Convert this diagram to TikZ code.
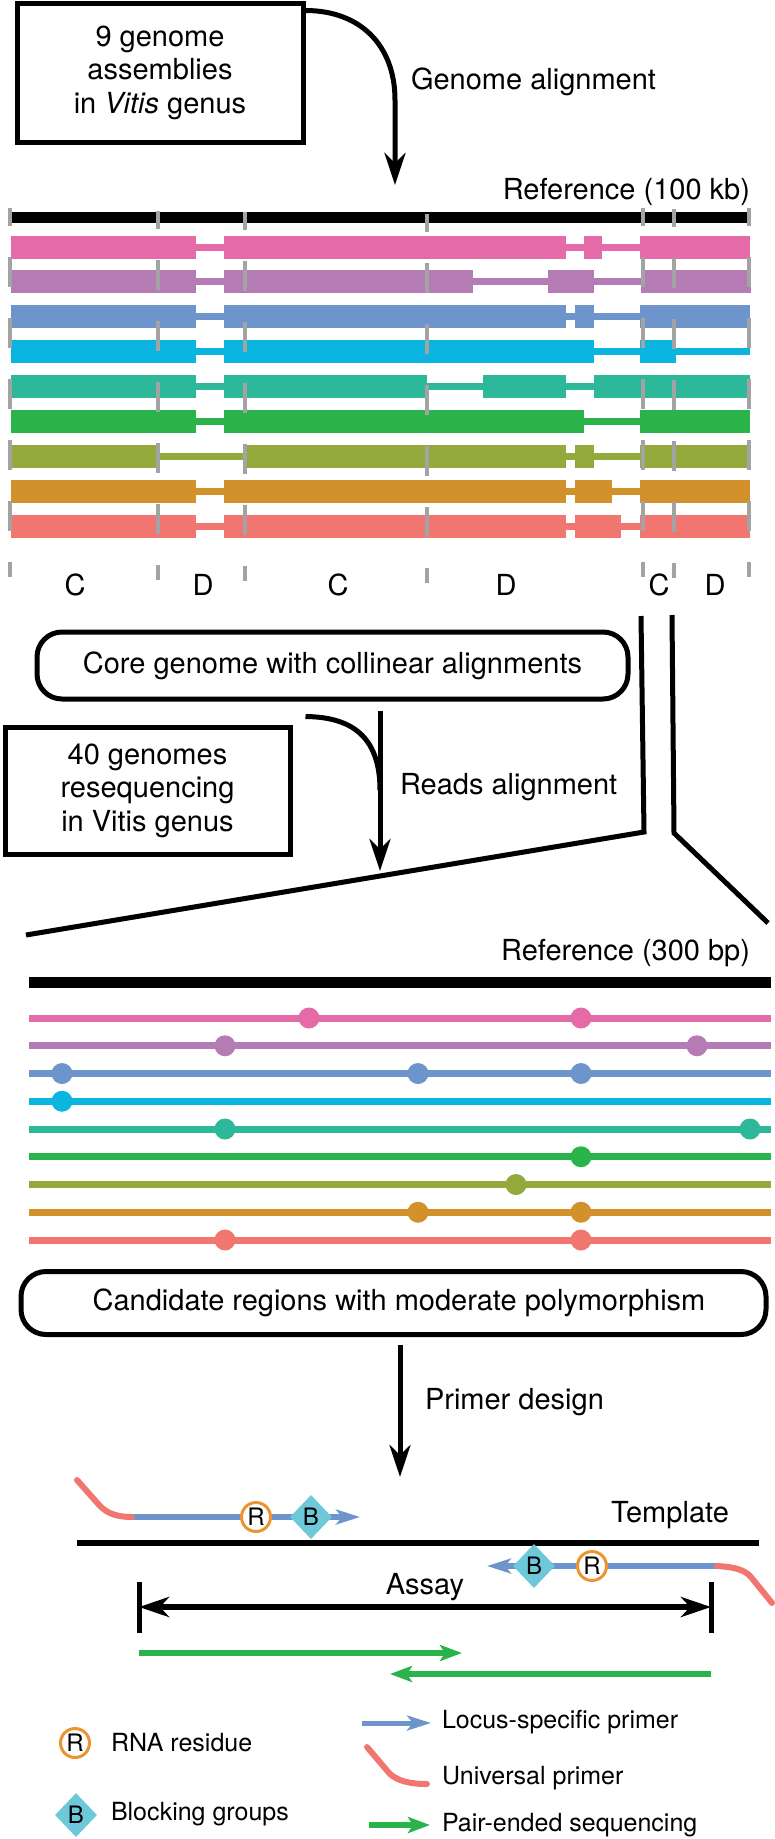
\documentclass[tikz,border=0pt]{standalone}
\usepackage{fontspec}
\setmainfont{TeX Gyre Heros}
\usetikzlibrary{arrows.meta,shapes.geometric,calc}
\definecolor{cpink}{HTML}{E46BA7}
\definecolor{cpurple}{HTML}{B57BB5}
\definecolor{cblue}{HTML}{6D95CC}
\definecolor{ccyan}{HTML}{0AB6E0}
\definecolor{cteal}{HTML}{2DB999}
\definecolor{cgreen}{HTML}{29B34A}
\definecolor{colive}{HTML}{93A93B}
\definecolor{corange}{HTML}{D3912C}
\definecolor{cred}{HTML}{F27670}
\definecolor{cgray}{HTML}{A3A3A3}
\definecolor{rcirc}{HTML}{EB9431}
\definecolor{bdia}{HTML}{6DC8DA}
\newcommand{\genrow}[3]{%
  \draw[#1,line width=7pt] (11,#2) -- (750,#2);
  \foreach \xa/\xb in {#3} {\fill[#1] (\xa,#2-11.5) rectangle (\xb,#2+11.5);}
}
\newcommand{\snprow}[3]{%
  \draw[#1,line width=7pt] (29,#2) -- (771,#2);
  \foreach \xa in {#3} {\fill[#1] (\xa,#2) circle[radius=10.5pt];}
}
\begin{document}
\begin{tikzpicture}[x=1pt,y=-1pt,
  big/.style={font=\fontsize{29}{33.5}\selectfont},
  small/.style={font=\fontsize{25}{30}\selectfont},
  plain/.style={big,inner sep=0pt,outer sep=0pt},
  legtxt/.style={small,inner sep=0pt,outer sep=0pt,anchor=west},
  sqbox/.style={draw,line width=5pt,align=center,big,inner sep=0pt},
  rdbox/.style={draw,line width=5pt,rounded corners=25pt,big,inner sep=0pt},
  flow/.style={line width=5pt,-{Stealth[length=32pt,width=21pt,inset=10pt]}},
  curveline/.style={line width=5pt},
  zoomline/.style={line width=5pt},
  tick/.style={draw=cgray,line width=4pt,dash pattern=on 30pt off 31pt,dash phase=12pt},
  rres/.style={circle,draw=rcirc,line width=3pt,fill=white,inner sep=0pt,minimum size=29pt,font=\fontsize{24}{24}\selectfont},
  bgrp/.style={diamond,fill=bdia,inner sep=0pt,minimum width=42pt,minimum height=44pt,font=\fontsize{24}{24}\selectfont},
  primer/.style={draw=cblue,line width=6pt},
  primerhead/.style={-{Stealth[length=24pt,width=15pt,inset=6pt]}},
  univ/.style={draw=cred,line width=6pt,line cap=round},
  readarrow/.style={draw=cgreen,line width=6pt,-{Stealth[length=22pt,width=16pt,inset=5pt]}},
]
\useasboundingbox (0,0) rectangle (775,1839);

% ---------- top: genome alignment ----------
\node[sqbox,minimum width=286pt,minimum height=139pt] (box1) at (160,72.5) {9 genome\\assemblies\\in \textit{Vitis} genus};
\coordinate (a1end) at (395,185);
\draw[flow] ($(box1.north east)+(0,10)$) .. controls (360,10.5) and (395,45) .. (395,100) -- (a1end);
\node[plain,anchor=west] (galign) at (411,82) {Genome alignment};
\node[plain,anchor=east] (ref100) at (750,192) {Reference (100 kb)};
\fill (10,211.5) rectangle (750,222.5);

\genrow{cpink}{247}{11/196,224/566,584/602,640/750}
\genrow{cpurple}{281.9}{11/196,224/473,548/594,641/751}
\genrow{cblue}{316.8}{11/196,224/566,575/594,640/750}
\genrow{ccyan}{351.7}{11/196,224/594,640/676}
\genrow{cteal}{386.6}{11/196,224/427,483/566,594/750}
\genrow{cgreen}{421.5}{11/196,224/584,640/750}
\genrow{colive}{456.4}{11/158,245/566,575/594,640/750}
\genrow{corange}{491.3}{11/196,224/566,575/612,640/750}
\genrow{cred}{526.2}{11/196,224/566,575/621,640/750}

\foreach \tx/\td in {10/0,158/3,245/4,427/6,643/0,674/1,749/0}
  \draw[tick] (\tx,208+\td) -- (\tx,577+\td);

\node[plain] (c1) at (75,585) {C};
\node[plain] (d1) at (203,585) {D};
\node[plain] (c2) at (338,585) {C};
\node[plain] (d2) at (506,585) {D};
\node[plain] (c3) at (659,585) {C};
\node[plain] (d3) at (715,585) {D};

% ---------- core genome / reads alignment ----------
\node[rdbox,minimum width=591pt,minimum height=67pt] (core) at (332.5,665.5) {Core genome with collinear alignments};
\node[sqbox,minimum width=285pt,minimum height=127pt] (box40) at (147.5,790.5) {40 genomes\\resequencing\\in Vitis genus};
\coordinate (a2end) at (380,871);
\draw[flow] ($(core.south -| a2end)+(0,9)$) -- (a2end);
\draw[curveline] ($(box40.north east)+(13,-8)$) .. controls (350,717) and (380,735) .. (380,790);
\node[plain,anchor=west] (ralign) at (400,787) {Reads alignment};

\draw[zoomline] (641,616) -- (644,832) -- (26,935);
\draw[zoomline] (672,615) -- (674,833) -- (768,923);

% ---------- 300 bp ----------
\node[plain,anchor=east] (ref300) at (750,953) {Reference (300 bp)};
\fill (29,976.5) rectangle (771,987.5);
\snprow{cpink}{1018}{309,581}
\snprow{cpurple}{1045.75}{225,697}
\snprow{cblue}{1073.5}{62,418,581}
\snprow{ccyan}{1101.25}{62}
\snprow{cteal}{1129}{225,750}
\snprow{cgreen}{1156.75}{581}
\snprow{colive}{1184.5}{516}
\snprow{corange}{1212.25}{418,581}
\snprow{cred}{1240}{225,581}

\node[rdbox,minimum width=745pt,minimum height=63pt] (cand) at (393.5,1303) {\hspace*{11pt}Candidate regions with moderate polymorphism};
\coordinate (a3end) at (400,1477);
\draw[flow] ($(cand.south -| a3end)+(0,8)$) -- (a3end);
\node[plain,anchor=west] (pdesign) at (425,1402) {Primer design};

% ---------- primers ----------
\fill (77,1539.5) rectangle (759,1545.5);
\node[plain] (tmpl) at (670,1515) {Template};

\coordinate (p1s) at (132,1517);
\coordinate (p1e) at (360,1517);
\draw[primer,primerhead] (p1s) -- (p1e);
\draw[univ] (77,1480) -- (100,1506) .. controls (108,1514) and (118,1517) .. (p1s);
\node[rres] (r1) at (256,1517) {R};
\node[bgrp] (b1) at (311,1517) {B};

\coordinate (p2s) at (717,1566);
\coordinate (p2e) at (487,1566);
\draw[primer,primerhead] (p2s) -- (p2e);
\draw[univ] (p2s) .. controls (735,1567) and (745,1570) .. (751,1577) -- (772,1603);
\node[bgrp] (b2) at (534,1566) {B};
\node[rres] (r2) at (592,1566) {R};

\coordinate (asl) at (139,1607);
\coordinate (asr) at (711,1607);
\draw[line width=5pt] ($(asl)+(0,-25)$) -- ($(asl)+(0,26)$);
\draw[line width=5pt] ($(asr)+(0,-25)$) -- ($(asr)+(0,26)$);
\draw[line width=6pt,{Stealth[length=30pt,width=20pt,inset=9pt]}-{Stealth[length=30pt,width=20pt,inset=9pt]}] (asl) -- (asr);
\node[plain] (assay) at (425,1587) {Assay};

\draw[readarrow] (139,1653) -- (462,1653);
\draw[readarrow] (711,1674) -- (390,1674);

% ---------- legend ----------
\node[rres] (lr) at (75,1743) {R};
\node[legtxt] (lrt) at (111,1743) {RNA residue};
\node[bgrp] (lb) at (76,1815) {B};
\node[legtxt] (lbt) at (111,1814) {Blocking groups};
\node[legtxt] (llt) at (442,1722) {Locus-specific primer};
\node[legtxt] (lut) at (442,1778) {Universal primer};
\node[legtxt] (lpt) at (442,1825) {Pair-ended sequencing};
\draw[primer,primerhead,line width=5pt] ($(llt.west)+(-80,1)$) -- ($(llt.west)+(-11,1)$);
\draw[univ] ($(lut.west)+(-75,-31)$) -- ($(lut.west)+(-52,-4)$) .. controls ($(lut.west)+(-44,3)$) and ($(lut.west)+(-32,6)$) .. ($(lut.west)+(-15,6)$);
\draw[readarrow] ($(lpt.west)+(-73,0)$) -- ($(lpt.west)+(-12,0)$);
\end{tikzpicture}
\end{document}
